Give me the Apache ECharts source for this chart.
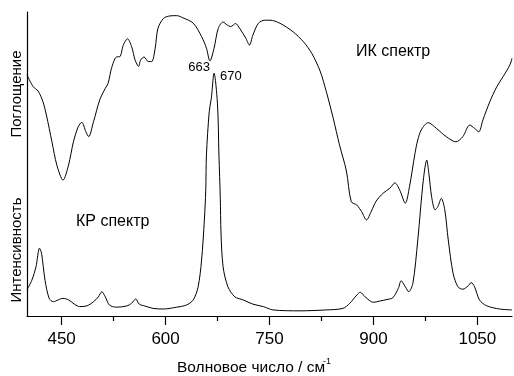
<!DOCTYPE html>
<html lang="ru">
<head>
    <meta charset="UTF-8">
    <title>ИК и КР спектры</title>
    <style>
        html,body{margin:0;padding:0;background:#fff;}
        #chart{width:514px;height:376px;}
    </style>
    <script src="https://cdn.jsdelivr.net/npm/echarts@6/dist/echarts.min.js"></script>
</head>
<body>
<div id="chart"></div>
<script>
    // ИК спектр (поглощение, отн. ед.)
    let irWave = [400,409,416,423,428,436,443,452,460,467,474,479,485,489,496,505,513,517,522,529,534,539,545,551,556,561,564,569,575,580,585,589,597,606,616,625,640,652,659,664,670,676,683,689,694,701,707,716,721,726,734,743,751,765,784,799,811,823,832,842,851,861,868,876,883,890,897,904,914,924,931,938,946,952,960,964,969,979,991,1005,1019,1029,1039,1046,1052,1058,1068,1078,1087,1097,1100];
    let irAbs = [79.3,75.4,74.0,70.5,66.1,57.3,49.7,44.7,49.7,57.3,62.3,63.7,60.6,59.0,63.9,71.1,74.9,76.5,81.5,85.2,85.3,89.1,91.2,88.6,84.2,82.1,84.2,85.2,83.7,83.7,88.1,94.6,97.9,98.7,98.8,98.1,96.3,91.9,88.1,83.9,88.1,94.6,96.7,95.7,95.2,96.2,94.6,91.3,89.1,92.4,96.3,97.3,97.3,96.3,93.5,90.2,86.4,80.6,73.8,65.0,56.3,47.7,37.6,36.5,34.3,31.6,34.5,37.8,40.4,42.1,43.8,41.4,37.1,42.5,53.5,57.9,61.2,63.6,61.7,59.0,57.3,59.0,62.8,61.7,60.6,64.5,70.5,75.4,78.7,82.6,84.8];

    // КР спектр (интенсивность, отн. ед.)
    let ramanWave = [400,407,413,418,421,426,432,438,445,452,460,469,476,486,496,503,508,513,519,529,544,551,557,562,570,582,597,616,630,640,647,652,656,658,659,663,666,670,675,677,679,680,683,690,700,712,726,741,755,794,832,856,866,876,881,888,900,909,921,928,936,940,946,951,957,964,972,977,980,984,989,993,998,1003,1008,1015,1022,1029,1037,1041,1046,1053,1063,1082,1100];
    let ramanInt = [8.6,11.8,16.2,22.3,20.6,11.8,5.8,4.7,5.3,5.8,5.3,3.8,3.1,3.3,4.7,6.3,8.0,6.3,3.6,2.9,3.3,4.2,5.6,3.9,3.3,2.5,2.3,2.9,3.6,5.3,9.6,18.4,31.6,41.4,53.0,67.2,71.6,79.9,69.4,53.0,38.7,27.3,16.2,9.6,6.3,5.3,3.9,3.1,2.0,1.7,2.0,2.5,4.2,6.9,7.8,6.3,4.5,4.9,5.5,6.0,9.1,11.6,9.6,8.0,10.8,25.0,44.7,51.3,46.9,39.2,34.9,36.0,38.7,34.9,25.0,14.0,9.6,8.8,10.0,11.0,9.6,5.3,3.4,2.3,2.0];

    let majorTicks = [450,600,750,900,1050];
    let minorTicks = [525,675,825,975];

    let font = 'Liberation Sans, Arial, sans-serif';

    function pairs(xs, ys) {
        return xs.map(function (x, i) { return [x, ys[i]]; });
    }

    let myChart = echarts.init(document.getElementById('chart'));
    let option = {
        animation: false,
        grid: {left: 27, right: 2, top: 12, bottom: 60},
        xAxis: [
            {
                type: 'value',
                min: 400,
                max: 1100,
                axisLine: {lineStyle: {color: '#000', width: 1.2}},
                axisTick: {customValues: majorTicks, length: 9, lineStyle: {color: '#000', width: 1.2}},
                axisLabel: {
                    customValues: majorTicks, color: '#000', fontSize: 17, fontFamily: font, margin: 15,
                    formatter: function (v) { return String(v); }
                },
                splitLine: {show: false}
            },
            {
                type: 'value',
                min: 400,
                max: 1100,
                position: 'bottom',
                axisLine: {show: false},
                axisTick: {customValues: minorTicks, length: 5, lineStyle: {color: '#000', width: 1.2}},
                axisLabel: {show: false},
                splitLine: {show: false}
            }
        ],
        yAxis: {
            type: 'value',
            min: 0,
            max: 100,
            axisLine: {show: true, lineStyle: {color: '#000', width: 1.2}},
            axisTick: {show: false},
            axisLabel: {show: false},
            splitLine: {show: false}
        },
        series: [
            {
                name: 'ИК спектр',
                type: 'line',
                showSymbol: false,
                smooth: 0.3,
                lineStyle: {color: '#000', width: 1},
                data: pairs(irWave, irAbs)
            },
            {
                name: 'КР спектр',
                type: 'line',
                showSymbol: false,
                smooth: 0.3,
                lineStyle: {color: '#000', width: 1},
                data: pairs(ramanWave, ramanInt)
            }
        ],
        graphic: [
            {type: 'text', x: 17, y: 94, rotation: Math.PI / 2,
                style: {text: 'Поглощение', fontSize: 15, fontFamily: font, fill: '#000', align: 'center', verticalAlign: 'middle'}},
            {type: 'text', x: 17, y: 250, rotation: Math.PI / 2,
                style: {text: 'Интенсивность', fontSize: 15, fontFamily: font, fill: '#000', align: 'center', verticalAlign: 'middle'}},
            {type: 'text', x: 356, y: 52,
                style: {text: 'ИК спектр', fontSize: 16, fontFamily: font, fill: '#000', align: 'left', verticalAlign: 'middle'}},
            {type: 'text', x: 76, y: 222,
                style: {text: 'КР спектр', fontSize: 16, fontFamily: font, fill: '#000', align: 'left', verticalAlign: 'middle'}},
            {type: 'text', x: 210, y: 67,
                style: {text: '663', fontSize: 13, fontFamily: font, fill: '#000', align: 'right', verticalAlign: 'middle'}},
            {type: 'text', x: 220, y: 76,
                style: {text: '670', fontSize: 13, fontFamily: font, fill: '#000', align: 'left', verticalAlign: 'middle'}},
            {type: 'text', x: 177, y: 368,
                style: {text: 'Волновое число / см', fontSize: 15.5, fontFamily: font, fill: '#000', align: 'left', verticalAlign: 'middle'}},
            {type: 'text', x: 323, y: 362,
                style: {text: '-1', fontSize: 9, fontFamily: font, fill: '#000', align: 'left', verticalAlign: 'middle'}}
        ]
    };
    myChart.setOption(option);
</script>
</body>
</html>
